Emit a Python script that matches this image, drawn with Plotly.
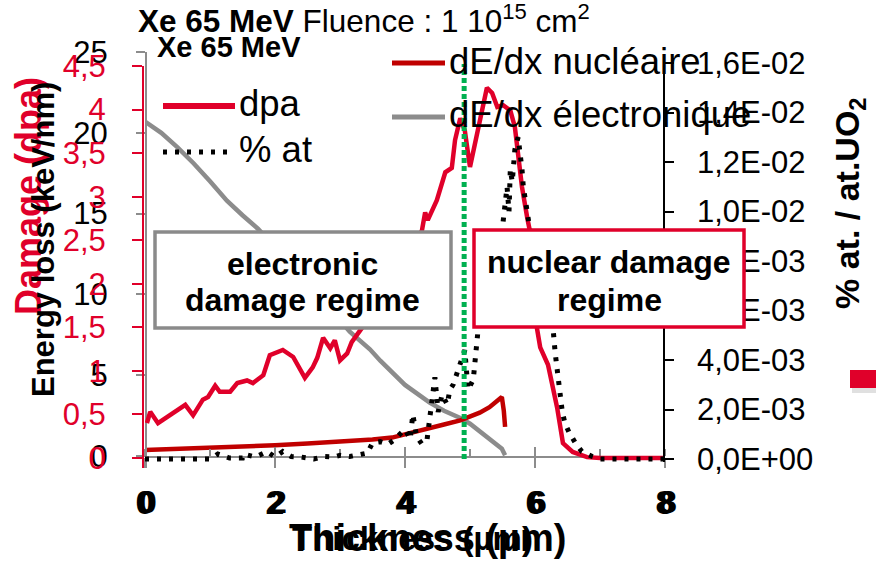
import plotly.graph_objects as go

# ---- data -------------------------------------------------------------
# electronic stopping power (keV/nm) vs depth (µm)
x_elec = [0.0, 0.25, 0.5, 0.75, 1.0, 1.26, 1.5, 1.74, 2.0, 2.5, 3.0, 3.15, 3.46, 3.62,
          4.0, 4.38, 4.6, 4.85, 5.0, 5.15, 5.35, 5.49, 5.54]
dedx_elec = [20.7, 20.0, 19.1, 18.1, 17.0, 15.8, 14.9, 14.05, 12.9, 10.5, 8.4, 7.7, 6.6, 5.9,
             4.4, 3.3, 2.8, 2.35, 2.0, 1.5, 0.87, 0.45, 0.05]

# nuclear stopping power (keV/nm)
x_nucl = [0.0, 0.5, 1.0, 1.5, 2.0, 2.5, 3.0, 3.5, 3.8, 4.1, 4.4, 4.6, 4.85, 5.0, 5.15,
          5.3, 5.42, 5.49, 5.52, 5.54]
dedx_nucl = [0.37, 0.43, 0.5, 0.58, 0.67, 0.77, 0.88, 1.02, 1.14, 1.42, 1.72, 1.95, 2.2, 2.42,
             2.68, 3.02, 3.4, 3.65, 2.8, 1.8]

# damage profile (dpa)
x_dpa = [0.03, 0.08, 0.20, 0.34, 0.46, 0.62, 0.74, 0.89, 0.97, 1.08, 1.15, 1.31, 1.42, 1.57,
         1.66, 1.82, 1.92, 2.12, 2.28, 2.38, 2.46, 2.58, 2.65, 2.74, 2.85, 2.92, 3.00, 3.11,
         3.18, 3.46, 3.77, 4.00, 4.26, 4.31, 4.35, 4.49, 4.62, 4.72, 4.77, 4.85, 4.92, 5.00,
         5.11, 5.18, 5.26, 5.34, 5.42, 5.51, 5.62, 5.69, 5.74, 5.80, 5.88, 5.92, 5.97, 6.03,
         6.08, 6.20, 6.26, 6.34, 6.43, 6.58, 6.80, 7.00, 8.00]
dpa = [0.40, 0.53, 0.40, 0.47, 0.52, 0.61, 0.49, 0.67, 0.70, 0.83, 0.76, 0.76, 0.86, 0.89,
       0.86, 0.95, 1.18, 1.24, 1.16, 1.03, 0.92, 1.04, 1.15, 1.38, 1.26, 1.35, 1.12, 1.20,
       1.33, 1.62, 2.0, 2.3, 2.61, 2.82, 2.73, 2.96, 3.28, 3.33, 3.65, 3.90, 3.76, 3.34,
       3.73, 3.99, 4.25, 4.19, 4.03, 4.05, 3.99, 3.80, 3.50, 3.11, 2.76, 2.61, 2.10, 1.49,
       1.27, 1.07, 0.86, 0.58, 0.17, 0.07, 0.01, 0.0, 0.0]

# implanted Xe concentration (% at. / at. UO2)
x_pct = [0.0, 0.5, 1.0, 1.12, 1.3, 1.5, 1.52, 1.7, 1.88, 2.0, 2.12, 2.25, 2.4, 2.6, 2.75,
         2.9, 3.0, 3.15, 3.3, 3.42, 3.5, 3.62, 3.74, 3.85, 3.92, 4.0, 4.08, 4.12, 4.18, 4.26,
         4.34, 4.42, 4.46, 4.51, 4.57, 4.65, 4.69, 4.74, 4.8, 4.85, 4.92, 4.97, 5.05, 5.12, 5.2,
         5.3, 5.4, 5.48, 5.51, 5.54, 5.57, 5.6, 5.62, 5.65, 5.69, 5.74, 5.77, 5.8, 5.82, 5.85,
         5.88, 5.92, 6.0, 6.1, 6.2, 6.28, 6.31, 6.34, 6.37, 6.42, 6.46, 6.52, 6.62, 6.72, 6.88,
         7.0, 8.0]
pct = [0, 0, 0, 0.0002, 0.00004, 0.00004, 0.0002, 0.00008, 0.0003, 0.00008,
       0.0003, 0.0001, 0.00008, 0.0, 0.0001, 0.00008, 0.00015, 0.0001, 0.00015, 0.00024,
       0.00065, 0.0007, 0.0006, 0.0008, 0.0010, 0.0012, 0.0008, 0.0018, 0.0009, 0.0006,
       0.0008, 0.0023, 0.0033, 0.0019, 0.0026, 0.0022, 0.0028, 0.0030, 0.0035, 0.0039,
       0.0044, 0.0028, 0.0032, 0.0051, 0.0062, 0.0075, 0.0085, 0.0090, 0.0096, 0.0105,
       0.0110, 0.0100, 0.0117, 0.0112, 0.0125, 0.0130, 0.0125, 0.0117, 0.0110, 0.0105,
       0.0100, 0.0093, 0.0075, 0.0062, 0.0056, 0.0052, 0.0043, 0.0036, 0.0027, 0.0019,
       0.00145, 0.0011, 0.00065, 0.0003, 0.0001, 0.0, 0.0]

# boundary between the electronic and nuclear regimes (µm)
boundary_um = 4.91

# tick labels
x_ticks = [0, 2, 4, 6, 8]
energy_ticks = [0, 5, 10, 15, 20, 25]
dpa_ticks = [0, 0.5, 1, 1.5, 2, 2.5, 3, 3.5, 4, 4.5]
dpa_ticktext = ["0", "0,5", "1", "1,5", "2", "2,5", "3", "3,5", "4", "4,5"]
pct_ticks = [0, 0.002, 0.004, 0.006, 0.008, 0.010, 0.012, 0.014, 0.016]
pct_ticktext = ["0,0E+00", "2,0E-03", "4,0E-03", "6,0E-03", "8,0E-03",
                "1,0E-02", "1,2E-02", "1,4E-02", "1,6E-02"]

# ---- styling ------------------------------------------------------------
W, H = 876, 562
FONT = "Liberation Sans, Arial, sans-serif"
RED = "#E0002A"
DARKRED = "#C00000"
GREY = "#8C8C8C"
GREEN = "#00B050"


def px(x):
    return x / W


def py(y):
    return 1 - y / H


fig = go.Figure()

fig.add_trace(go.Scatter(x=x_elec, y=dedx_elec, xaxis="x", yaxis="y", mode="lines",
                         line=dict(color=GREY, width=4.5), name="dE/dx électronique"))
fig.add_trace(go.Scatter(x=x_nucl, y=dedx_nucl, xaxis="x", yaxis="y", mode="lines",
                         line=dict(color=DARKRED, width=4.5), name="dE/dx nucléaire"))
fig.add_trace(go.Scatter(x=x_dpa, y=dpa, xaxis="x", yaxis="y2", mode="lines",
                         line=dict(color=RED, width=4.5), name="dpa"))
fig.add_trace(go.Scatter(x=x_pct, y=pct, xaxis="x", yaxis="y3", mode="lines",
                         line=dict(color="black", width=5, dash="4px,8px"), name="% at"))
# carriers for the two extra thickness axes (inner ticks, second label set)
fig.add_trace(go.Scatter(x=[None], y=[None], xaxis="x2", yaxis="y", mode="lines",
                         hoverinfo="skip"))
fig.add_trace(go.Scatter(x=[None], y=[None], xaxis="x3", yaxis="y", mode="lines",
                         hoverinfo="skip"))

bold = lambda s: "<b>%s</b>" % s
X_STANDOFF = 5

fig.update_layout(
    template="none",
    width=W, height=H, autosize=False,
    margin=dict(l=0, r=0, t=0, b=0, pad=0),
    paper_bgcolor="white", plot_bgcolor="rgba(0,0,0,0)",
    showlegend=False,
    font=dict(family=FONT, color="black"),
    xaxis=dict(domain=[px(145), px(665)], range=[0, 8], anchor="free", position=py(457),
               automargin=False,
               showline=True, linecolor=GREY, linewidth=2, showgrid=False, zeroline=False,
               ticks="outside", ticklen=10, tickwidth=2, tickcolor=GREY,
               tickvals=x_ticks, ticktext=[bold(t) for t in x_ticks],
               tickfont=dict(size=34, family=FONT, color="black"),
               ticklabelstandoff=X_STANDOFF,
               minor=dict(ticks="inside", ticklen=7, tickwidth=2, tickcolor=GREY, dtick=1,
                          showgrid=False)),
    xaxis2=dict(domain=[px(145), px(665)], range=[0, 8], anchor="free", position=py(457),
                automargin=False, showline=False, showgrid=False, zeroline=False,
                ticks="inside", ticklen=10, tickwidth=2, tickcolor=GREY,
                tickvals=x_ticks, showticklabels=False),
    xaxis3=dict(domain=[px(148), px(668)], range=[0, 8], anchor="free", position=py(457),
                automargin=False, showline=False, showgrid=False, zeroline=False,
                ticks="outside", ticklen=10, tickwidth=1, tickcolor="rgba(0,0,0,0)",
                tickvals=x_ticks, ticktext=[bold(t) for t in x_ticks],
                tickfont=dict(size=32, family=FONT, color="black"),
                ticklabelstandoff=X_STANDOFF + 2),
    yaxis=dict(domain=[py(468), py(52)], range=[-(468 - 456) / 16.16, 25], anchor="free",
               position=px(146), automargin=False,
               showline=True, linecolor=GREY, linewidth=2,
               showgrid=False, zeroline=False, ticks="outside", ticklen=9, tickwidth=2,
               tickcolor=GREY, tickvals=energy_ticks,
               tickfont=dict(size=31, family=FONT, color="black"), ticklabelstandoff=22),
    yaxis2=dict(domain=[py(468), py(66)], range=[-(468 - 458) / 87.2, 4.5], anchor="free",
                position=px(143), automargin=False,
                showline=True, linecolor=RED, linewidth=2,
                showgrid=False, zeroline=False, ticks="outside", ticklen=10, tickwidth=2,
                tickcolor=RED, tickvals=dpa_ticks, ticktext=dpa_ticktext,
                tickfont=dict(size=31, family=FONT, color=RED), ticklabelstandoff=20),
    yaxis3=dict(domain=[py(462), py(63)], range=[-3 / 24750, 0.016], anchor="free",
                position=px(664), side="right", automargin=False,
                showline=True, linecolor="black",
                linewidth=1.5, showgrid=False, zeroline=False, ticks="outside", ticklen=9,
                tickwidth=1.5, tickcolor="black", tickvals=pct_ticks, ticktext=pct_ticktext,
                tickfont=dict(size=31, family=FONT, color="black"), ticklabelstandoff=17),
)

shapes = []
# regime separator
shapes.append(dict(type="line", xref="x", yref="paper", x0=boundary_um, x1=boundary_um,
                   y0=py(459), y1=py(64), line=dict(color=GREEN, width=5, dash="5px,3px"),
                   layer="above"))
# regime boxes
shapes.append(dict(type="rect", xref="paper", yref="paper", x0=px(155), x1=px(451),
                   y0=py(328), y1=py(232), fillcolor="white",
                   line=dict(color="#8A8A8A", width=3.5), layer="above"))
shapes.append(dict(type="rect", xref="paper", yref="paper", x0=px(474), x1=px(744),
                   y0=py(327), y1=py(230), fillcolor="white",
                   line=dict(color=RED, width=3.5), layer="above"))
# legend samples
shapes.append(dict(type="line", xref="paper", yref="paper", x0=px(163), x1=px(235),
                   y0=py(106), y1=py(106), line=dict(color=RED, width=6), layer="above"))
shapes.append(dict(type="line", xref="paper", yref="paper", x0=px(163), x1=px(235),
                   y0=py(152), y1=py(152), line=dict(color="black", width=5, dash="4px,8px"),
                   layer="above"))
shapes.append(dict(type="line", xref="paper", yref="paper", x0=px(392), x1=px(445),
                   y0=py(63), y1=py(63), line=dict(color=DARKRED, width=5), layer="above"))
shapes.append(dict(type="line", xref="paper", yref="paper", x0=px(392), x1=px(445),
                   y0=py(117), y1=py(117), line=dict(color=GREY, width=5), layer="above"))
# small red tab on the right edge with its shadow
shapes.append(dict(type="rect", xref="paper", yref="paper", x0=px(852), x1=px(876),
                   y0=py(393), y1=py(374), fillcolor="rgba(0,0,0,0.12)", line=dict(width=0),
                   layer="above"))
shapes.append(dict(type="rect", xref="paper", yref="paper", x0=px(850), x1=px(876),
                   y0=py(388), y1=py(370), fillcolor=RED, line=dict(width=0), layer="above"))
fig.update_layout(shapes=shapes)


def note(text, x, y, size, color="black", xanchor="left", angle=0):
    fig.add_annotation(text=text, x=px(x), y=py(y), xref="paper", yref="paper",
                       xanchor=xanchor, yanchor="middle", showarrow=False, textangle=angle,
                       font=dict(size=size, family=FONT, color=color))


# titles
note("<b>Xe 65 MeV</b> Fluence : 1 10<sup>15</sup> cm<sup>2</sup>", 136, 19, 31.5)
note("<b>Xe 65 MeV</b>", 155, 47, 29)
# legend labels
note("dpa", 237, 104, 36.5)
note("% at", 237, 150, 36.5)
note("dE/dx nucléaire", 447, 62, 36.5)
note("dE/dx électronique", 447, 115, 36.5)
# axis titles
note("<b>Damage (dpa)</b>", 28, 196, 36, color=RED, xanchor="center", angle=-90)
note("<b>Energy loss (keV/nm)</b>", 44, 240, 31, xanchor="center", angle=-90)
note("<b>% at. / at.UO<sub>2</sub></b>", 849, 203, 34, xanchor="center", angle=-90)
note("<b>Thickness (µm)</b>", 287, 538, 38)
note("<b>Thickness (µm)</b>", 290, 538, 33)
# regime labels
note("<b>electronic</b>", 302, 264, 32, xanchor="center")
note("<b>damage regime</b>", 302, 300, 32, xanchor="center")
note("<b>nuclear damage</b>", 609, 262, 32, xanchor="center")
note("<b>regime</b>", 609, 300, 32, xanchor="center")

fig.write_html("out.html")
